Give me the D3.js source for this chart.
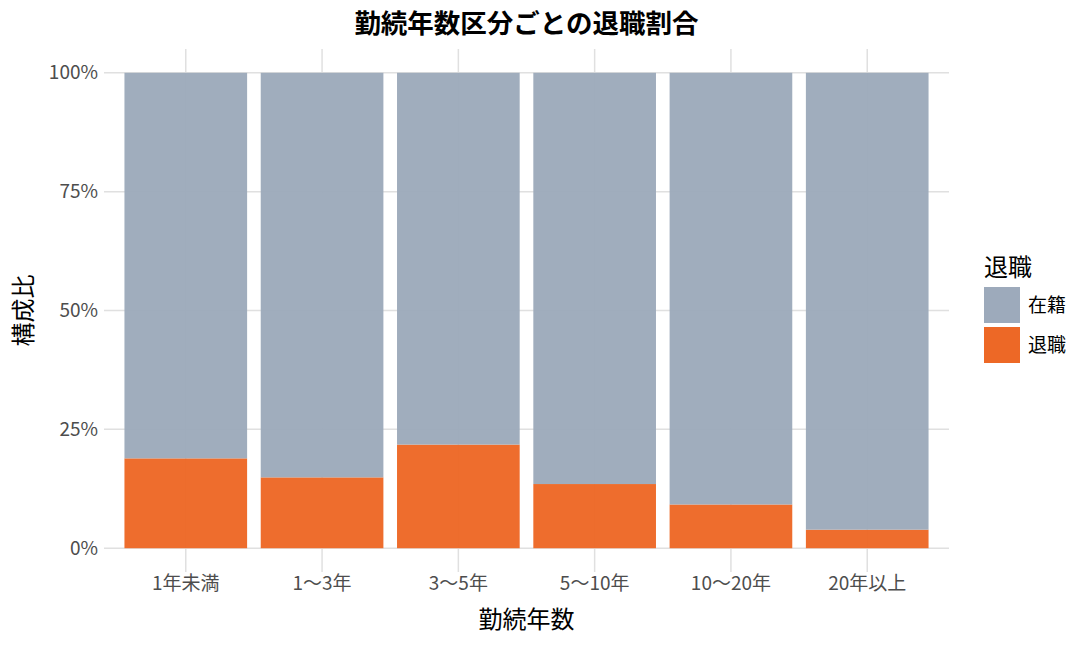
<!DOCTYPE html>
<html>
<head>
<meta charset="utf-8">
<script src="https://cdn.jsdelivr.net/npm/d3@7"></script>
<style>
  body { margin: 0; background: #fff; }
  text { font-family: "Noto Sans CJK JP", "Noto Sans", sans-serif; }
</style>
</head>
<body>
<script>
// data
const categories = ['1年未満', '1〜3年', '3〜5年', '5〜10年', '10〜20年', '20年以上'];
const retiredShare = [0.189, 0.149, 0.218, 0.135, 0.092, 0.039];
const seriesNames = ['在籍', '退職'];
const yTicks = [0, 0.25, 0.5, 0.75, 1];

const colors = { '在籍': '#9DAABB', '退職': '#ED6826' };

const width = 1080, height = 645;
const panel = { left: 104, right: 949, top: 49, bottom: 572 };

const svg = d3.select('body').append('svg')
  .attr('width', width)
  .attr('height', height);

// stacked rows: 退職 on the bottom, 在籍 on top
const rows = categories.map((c, i) => ({ cat: c, '退職': retiredShare[i], '在籍': 1 - retiredShare[i] }));
const stack = d3.stack().keys(['退職', '在籍'])(rows);

// ggplot-like discrete expansion (0.6 units each side)
const step = (panel.right - panel.left) / (categories.length + 0.2);
const x = d3.scaleBand()
  .domain(categories)
  .range([panel.left + 0.1 * step, panel.right - 0.1 * step])
  .paddingInner(0.1)
  .paddingOuter(0.05);

const y = d3.scaleLinear()
  .domain([-0.05, 1.05])
  .range([panel.bottom, panel.top]);

// grid
const grid = svg.append('g');
grid.selectAll('line.h')
  .data(yTicks)
  .enter().append('line')
  .attr('x1', panel.left).attr('x2', panel.right)
  .attr('y1', d => y(d)).attr('y2', d => y(d))
  .attr('stroke', '#E0E0E0').attr('stroke-width', 1.5);
grid.selectAll('line.v')
  .data(categories)
  .enter().append('line')
  .attr('x1', d => x(d) + x.bandwidth() / 2).attr('x2', d => x(d) + x.bandwidth() / 2)
  .attr('y1', panel.top).attr('y2', panel.bottom)
  .attr('stroke', '#E0E0E0').attr('stroke-width', 1.5);

// bars
svg.append('g')
  .selectAll('g')
  .data(stack)
  .enter().append('g')
  .attr('fill', d => colors[d.key])
  .attr('fill-opacity', 0.97)
  .selectAll('rect')
  .data(d => d)
  .enter().append('rect')
  .attr('x', d => x(d.data.cat))
  .attr('width', x.bandwidth())
  .attr('y', d => y(d[1]))
  .attr('height', d => y(d[0]) - y(d[1]));

// axes
const yAxis = svg.append('g')
  .attr('transform', `translate(${panel.left},0)`)
  .call(d3.axisLeft(y).tickValues(yTicks).tickFormat(d3.format('.0%')).tickSize(0).tickPadding(6));
yAxis.select('.domain').remove();
yAxis.selectAll('text').attr('font-size', 19).attr('fill', '#4D4D4D');

const xAxis = svg.append('g')
  .attr('transform', `translate(0,${panel.bottom})`)
  .call(d3.axisBottom(x).tickSize(0).tickPadding(4));
xAxis.select('.domain').remove();
xAxis.selectAll('text').attr('font-size', 19).attr('fill', '#4D4D4D');

// titles
const cx = (panel.left + panel.right) / 2;
svg.append('text')
  .attr('x', cx).attr('y', 33)
  .attr('text-anchor', 'middle')
  .attr('font-size', 26.5).attr('font-weight', 'bold')
  .text('勤続年数区分ごとの退職割合');

svg.append('text')
  .attr('x', cx).attr('y', 628)
  .attr('text-anchor', 'middle')
  .attr('font-size', 24)
  .text('勤続年数');

svg.append('text')
  .attr('transform', `translate(32,${(panel.top + panel.bottom) / 2}) rotate(-90)`)
  .attr('text-anchor', 'middle')
  .attr('font-size', 24)
  .text('構成比');

// legend
const legend = svg.append('g').attr('transform', 'translate(984,0)');
legend.append('text')
  .attr('x', 0).attr('y', 276)
  .attr('font-size', 24)
  .text('退職');
const items = legend.selectAll('g.item')
  .data(seriesNames)
  .enter().append('g')
  .attr('transform', (d, i) => `translate(0,${287 + i * 40})`);
items.append('rect')
  .attr('width', 36).attr('height', 36)
  .attr('fill', d => colors[d]);
items.append('text')
  .attr('x', 44).attr('y', 18)
  .attr('dy', '0.35em')
  .attr('font-size', 19)
  .text(d => d);
</script>
</body>
</html>
